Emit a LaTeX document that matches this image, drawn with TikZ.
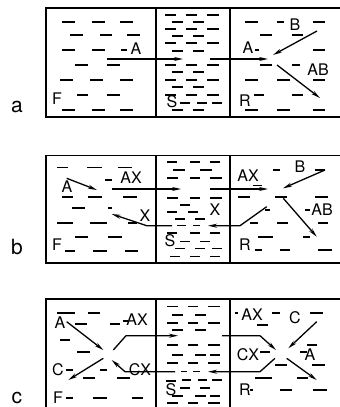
\documentclass[tikz,border=0pt]{standalone}
\usepackage{fontspec}
\setmainfont{TeX Gyre Heros}
\usetikzlibrary{arrows.meta}
\tikzset{
 frame/.style={line width=1.4pt},
 liq/.style={line width=1.1pt},
 flow/.style={line width=1.3pt,-{Stealth[length=9pt,width=4pt]}},
 lab/.style={font=\fontsize{16}{16}\selectfont,inner sep=0pt},
 plab/.style={font=\fontsize{21}{21}\selectfont,inner sep=0pt},
}
\newcommand{\liquid}[1]{\foreach \xa/\xb/\yy in {#1}{\draw[liq] (\xa,\yy) -- (\xb,\yy);}}
\begin{document}
\begin{tikzpicture}[x=1pt,y=-1pt]
\useasboundingbox (0,0) rectangle (340,407);
% ---------------- frames
\draw[frame] (340,8) -- (46,8) -- (46,117) -- (340,117);
\draw[frame] (156,8) -- (156,117) (230,8) -- (230,117);
\draw[frame] (340,155.5) -- (46,155.5) -- (46,263) -- (340,263);
\draw[frame] (156,155.5) -- (156,263) (230,155.5) -- (230,263);
\draw[frame] (46,407) -- (46,299) -- (340,299);
\draw[frame] (156,299) -- (156,407) (230,299) -- (230,407);
% ---------------- liquid, panel a
\liquid{62/75/22,92/105/22,120/133/22,70/83/35,100/112/35,127/140/35,62/75/50,92/105/50,121/127/50,75/88/65,107/120/65,60/73/80,90/103/80,120/133/80,77/88/95,107/120/95,62/75/110,92/105/110,120/133/110}
\liquid{165/176/15,186/197/15,207/219/15,172/183/22,193/204/22,165/176/29,186/197/29,207/219/29,172/183/36,193/204/36,165/176/43,186/197/43,207/219/43,172/183/51,193/204/51,165/176/65,186/197/65,207/219/65,172/183/72,193/204/72,165/176/80,186/197/80,207/219/80,172/183/87,193/204/87,165/176/95,186/197/95,207/219/95,180/190/103,197/207/103,212/222/103,172/183/110,193/204/110}
\liquid{245/258/22,277/284/22,313/325/22,260/272/35,292/303/35,255/259/50,313/325/50,260/272/65,292/300/65,245/258/80,277/290/80,313/325/80,254/264/95,292/303/95,245/258/110,277/290/110,313/325/110}
% ---------------- liquid, panel b
\liquid{57/68/167.5,87/102/167.5,118/132/167.5,105/112/180,62/73/197,88/102/197,123/137/197,72/85/208,108/112/208,57/73/223,90/107/223,128/137/223,75/88/237,108/122/237,65/75/251,93/107/251,125/138/251}
\liquid{167/177/162,190/200/162,210/220/162,173/185/170,200/212/170,167/178/178,190/200/178,210/222/178,167/178/198,190/200/198,210/222/198,180/190/205,167/177/212,188/198/212,175/185/219,195/205/219,177/186/225.7,193/200/225.7,167/177/233,190/200/233,210/220/233,180/190/241.5,200/210/241.5,175/185/248.5,195/205/248.5,212/222/248.5,170/180/256.5,190/200/256.5,210/220/256.5}
\liquid{273/280/170,315/325/170,238/250/197,275/287/197,315/328/197,265/270/210,305/310/210,250/258/223,277/288/223,318/328/223,258/273/237,303/310/237,255/262/250,280/290/250,318/332/250}
\draw[line width=0.8pt] (253,185) -- (262,185);
% ---------------- liquid, panel c
\liquid{57/75/313,88/100/313,75/87/324,110/120/324,123/128/321,60/70/340,77/90/352,66/73/370,100/107/370,83/95/378,117/130/378,66/73/398,93/107/398,132/143/398}
\liquid{167/178/306.7,188/198/306.7,208/220/306.7,172/183/315,195/206/315,167/178/323,188/198/323,208/220/323,172/183/330,195/206/330,167/178/345,188/198/345,208/220/345,172/183/355,195/206/355,210/220/355,167/178/363,188/198/363,208/220/363,181/187/371.7,193/200/371.7,166/176/381,182/191/380,198/207/380,212/222/380,180/190/388,200/210/388,172/183/396,195/206/396,210/220/396,167/178/403,188/198/403,208/220/403}
\liquid{235/238/313,272/280/313,310/323/313,257/268/325,307/317/345,260/270/352,300/307/352,275/287/365,312/325/365,255/272/378,297/308/378,250/253/390,280/292/390,313/327/390}
% ---------------- coordinates, panel a
\coordinate (aA0) at (106.7,59); \coordinate (aA1) at (183,59);
\coordinate (aA2) at (210,59); \coordinate (aA3) at (268,59);
\coordinate (aB0) at (317,31); \coordinate (aB1) at (273,55);
\coordinate (aC0) at (277,65); \coordinate (aC1) at (320,98);
\draw[flow] (aA0) -- (aA1);
\draw[flow] (aA2) -- (aA3);
\draw[flow] (aB0) -- (aB1);
\draw[flow] (aC0) -- (aC1);
% ---------------- coordinates, panel b
\coordinate (bA0) at (66.7,178.3); \coordinate (bA1) at (97,190);
\coordinate (bX0) at (111.7,189); \coordinate (bX1) at (181,189);
\coordinate (bX2) at (210,189); \coordinate (bX3) at (268,189);
\coordinate (bY0) at (266.7,206.7); \coordinate (bY1) at (240,225.7); \coordinate (bY2) at (208,225.7);
\coordinate (bY3) at (172,225.7); \coordinate (bY4) at (146.7,225.7); \coordinate (bY5) at (111.7,214);
\coordinate (bB0) at (325,170); \coordinate (bB1) at (283,188.3);
\coordinate (bC0) at (283.3,198.3); \coordinate (bC1) at (316.7,236.7);
\draw[flow] (bA0) -- (bA1);
\draw[flow] (bX0) -- (bX1);
\draw[flow] (bX2) -- (bX3);
\draw[flow] (bY0) -- (bY1) -- (bY2);
\draw[flow] (bY3) -- (bY4) -- (bY5);
\draw[flow] (bB0) -- (bB1);
\draw[flow] (bC0) -- (bC1);
% ---------------- coordinates, panel c
\coordinate (cA0) at (66.7,321.7); \coordinate (cA1) at (103.3,350);
\coordinate (cC0) at (103.3,358.3); \coordinate (cC1) at (68.3,380);
\coordinate (cX0) at (113.3,350); \coordinate (cX1) at (126,335.7); \coordinate (cX2) at (178,335.7);
\coordinate (cX3) at (222,335.7); \coordinate (cX4) at (260,335.7); \coordinate (cX5) at (276,350);
\coordinate (cY0) at (275,358.3); \coordinate (cY1) at (260,371.7); \coordinate (cY2) at (208,371.7);
\coordinate (cY3) at (175,371.7); \coordinate (cY4) at (125,371.7); \coordinate (cY5) at (111.7,360);
\coordinate (cD0) at (316.7,321.7); \coordinate (cD1) at (288.3,348.3);
\coordinate (cE0) at (286.7,358.3); \coordinate (cE1) at (316.7,380);
\draw[flow] (cA0) -- (cA1);
\draw[flow] (cC0) -- (cC1);
\draw[flow] (cX0) -- (cX1) -- (cX2);
\draw[flow] (cX3) -- (cX4) -- (cX5);
\draw[flow] (cY0) -- (cY1) -- (cY2);
\draw[flow] (cY3) -- (cY4) -- (cY5);
\draw[flow] (cD0) -- (cD1);
\draw[flow] (cE0) -- (cE1);
% ---------------- labels
\node[plab] (pa) at (17,107) {a};
\node[lab] (a1) at (136,49) {A};
\node[lab] (a2) at (57,99) {F};
\node[lab] (a3) at (172,102) {S};
\node[lab] (a4) at (245,101) {R};
\node[lab] (a5) at (248,48) {A};
\node[lab] (a6) at (295,25) {B};
\node[lab] (a7) at (318,70) {AB};
\node[plab] (pb) at (17,247) {b};
\node[lab] (b1) at (67,187) {A};
\node[lab] (b2) at (131,178) {AX};
\node[lab] (b3) at (145,216) {X};
\node[lab] (b4) at (57,245) {F};
\node[lab] (b5) at (170,241) {S};
\node[lab] (b6) at (215,210) {X};
\node[lab] (b7) at (248,176) {AX};
\node[lab] (b8) at (300,167) {B};
\node[lab] (b9) at (322,210) {AB};
\node[lab] (b10) at (245,245) {R};
\node[plab] (pc) at (17,398) {c};
\node[lab] (c1) at (60,323) {A};
\node[lab] (c2) at (137,320) {AX};
\node[lab] (c3) at (58,370) {C};
\node[lab] (c4) at (140,370) {CX};
\node[lab] (c5) at (58,398) {F};
\node[lab] (c6) at (171,390) {S};
\node[lab] (c7) at (252,315) {AX};
\node[lab] (c8) at (295,318) {C};
\node[lab] (c9) at (248,355) {CX};
\node[lab] (c10) at (310,355) {A};
\node[lab] (c11) at (245,390) {R};
\end{tikzpicture}
\end{document}
